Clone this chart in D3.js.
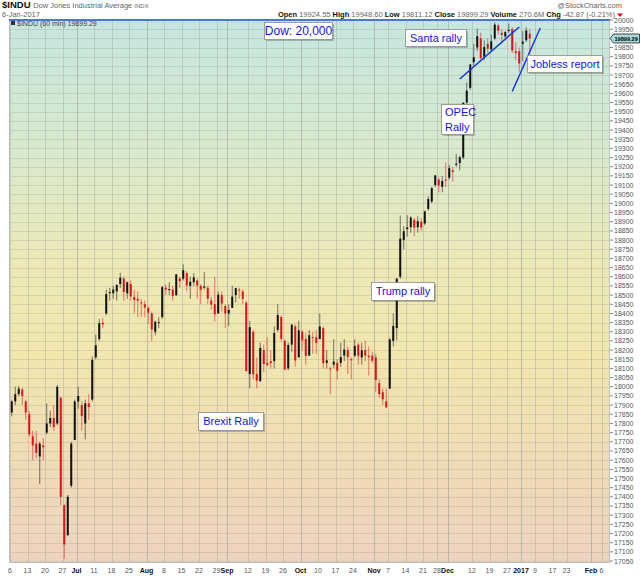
<!DOCTYPE html>
<html><head><meta charset="utf-8">
<script src="https://cdn.jsdelivr.net/npm/d3@7"></script>
<style>body{margin:0;background:#fff}svg{display:block;font-family:"Liberation Sans",Arial,sans-serif}</style>
</head><body><svg id="c" width="640" height="576"></svg>
<script>
const dates = [
"2016-06-06","2016-06-07","2016-06-08","2016-06-09","2016-06-10",
"2016-06-13","2016-06-14","2016-06-15","2016-06-16","2016-06-17",
"2016-06-20","2016-06-21","2016-06-22","2016-06-23","2016-06-24",
"2016-06-27","2016-06-28","2016-06-29","2016-06-30","2016-07-01",
"2016-07-05","2016-07-06","2016-07-07","2016-07-08",
"2016-07-11","2016-07-12","2016-07-13","2016-07-14","2016-07-15",
"2016-07-18","2016-07-19","2016-07-20","2016-07-21","2016-07-22",
"2016-07-25","2016-07-26","2016-07-27","2016-07-28","2016-07-29",
"2016-08-01","2016-08-02","2016-08-03","2016-08-04","2016-08-05",
"2016-08-08","2016-08-09","2016-08-10","2016-08-11","2016-08-12",
"2016-08-15","2016-08-16","2016-08-17","2016-08-18","2016-08-19",
"2016-08-22","2016-08-23","2016-08-24","2016-08-25","2016-08-26",
"2016-08-29","2016-08-30","2016-08-31","2016-09-01","2016-09-02",
"2016-09-06","2016-09-07","2016-09-08","2016-09-09",
"2016-09-12","2016-09-13","2016-09-14","2016-09-15","2016-09-16",
"2016-09-19","2016-09-20","2016-09-21","2016-09-22","2016-09-23",
"2016-09-26","2016-09-27","2016-09-28","2016-09-29","2016-09-30",
"2016-10-03","2016-10-04","2016-10-05","2016-10-06","2016-10-07",
"2016-10-10","2016-10-11","2016-10-12","2016-10-13","2016-10-14",
"2016-10-17","2016-10-18","2016-10-19","2016-10-20","2016-10-21",
"2016-10-24","2016-10-25","2016-10-26","2016-10-27","2016-10-28",
"2016-10-31","2016-11-01","2016-11-02","2016-11-03","2016-11-04",
"2016-11-07","2016-11-08","2016-11-09","2016-11-10","2016-11-11",
"2016-11-14","2016-11-15","2016-11-16","2016-11-17","2016-11-18",
"2016-11-21","2016-11-22","2016-11-23","2016-11-25",
"2016-11-28","2016-11-29","2016-11-30","2016-12-01","2016-12-02",
"2016-12-05","2016-12-06","2016-12-07","2016-12-08","2016-12-09",
"2016-12-12","2016-12-13","2016-12-14","2016-12-15","2016-12-16",
"2016-12-19","2016-12-20","2016-12-21","2016-12-22","2016-12-23",
"2016-12-27","2016-12-28","2016-12-29","2016-12-30",
"2017-01-03","2017-01-04","2017-01-05"];
const opens = [17860,17920,17960,17985,17920,17850,17730,17690,17620,17680,17750,17800,17830,17800,17940,
17355,17190,17460,17710,17920,17900,17800,17910,17930,18160,18260,18350,18400,18510,18510,18520,18560,18590,18510,
18560,18490,18480,18460,18450,18430,18400,18300,18350,18380,18540,18530,18530,18500,18590,18590,18620,18550,18570,18580,
18550,18540,18540,18470,18450,18400,18500,18440,18400,18430,18500,18530,18520,18460,18070,18300,18070,18030,18200,
18130,18140,18140,18310,18380,18250,18100,18230,18330,18160,18300,18260,18170,18270,18270,18260,18320,18130,18100,18120,
18130,18130,18170,18200,18150,18170,18230,18160,18200,18170,18170,18160,18020,17970,17920,17990,18250,18320,18600,18800,
18860,18870,18910,18870,18900,18890,18970,19010,19100,19130,19090,19130,19140,19180,19210,19220,19250,19550,19630,
19770,19850,19900,19800,19870,19840,19900,19970,19930,19910,19940,19950,19830,19830,19870,19890,19925];
const highs = [17930,18000,18005,17995,17930,17870,17760,17760,17700,17720,17910,17870,17900,18010,17946,
17360,17410,17700,17930,18000,17920,17930,17960,18166,18285,18370,18375,18530,18540,18550,18560,18622,18600,18575,
18580,18530,18520,18480,18470,18440,18410,18360,18380,18550,18560,18570,18550,18615,18600,18668,18630,18600,18620,18590,
18560,18625,18550,18490,18600,18520,18520,18450,18450,18550,18540,18540,18530,18465,18360,18310,18160,18240,18230,
18270,18200,18330,18450,18390,18260,18240,18340,18340,18360,18310,18290,18310,18300,18310,18399,18330,18200,18110,18260,
18150,18240,18260,18220,18160,18260,18240,18240,18250,18220,18190,18180,18040,17990,17990,18265,18400,18590,18934,18875,
18935,18930,18920,18930,18920,18960,19040,19090,19153,19140,19150,19225,19210,19200,19270,19260,19550,19660,19760,
19870,19953,19930,19890,19900,19920,19987,19980,19950,19940,19980,19960,19880,19850,19940,19960,19949];
const lows = [17840,17900,17950,17900,17820,17730,17600,17610,17470,17600,17740,17780,17760,17790,17356,
17063,17190,17450,17710,17880,17760,17713,17820,17920,18150,18250,18320,18390,18470,18480,18470,18540,18470,18480,
18470,18400,18380,18380,18380,18340,18248,18280,18320,18370,18500,18500,18470,18495,18540,18580,18520,18480,18550,18480,
18450,18530,18450,18420,18355,18400,18410,18320,18330,18430,18460,18480,18450,18085,17992,18040,17990,18030,18080,
18110,18100,18100,18300,18250,18090,18090,18190,18110,18160,18200,18120,18170,18180,18180,18260,18100,18100,17959,18100,
18040,18110,18140,18070,18040,18160,18120,18120,18140,18060,18130,17970,17940,17900,17883,17990,18220,18253,18589,18750,
18820,18840,18820,18840,18850,18880,18960,19000,19090,19060,19060,19090,19130,19120,19200,19180,19240,19540,19620,
19750,19830,19780,19780,19820,19830,19890,19920,19880,19900,19930,19820,19780,19718,19775,19880,19811];
const closes = [17920,17960,17990,17950,17860,17740,17680,17640,17690,17670,17800,17830,17780,18000,17400,
17140,17400,17690,17920,17950,17840,17910,17890,18147,18226,18347,18340,18506,18516,18530,18555,18595,18517,18570,
18493,18473,18470,18456,18432,18404,18313,18355,18352,18543,18529,18533,18495,18613,18576,18636,18552,18573,18597,18552,
18529,18547,18481,18448,18395,18502,18454,18400,18419,18492,18538,18526,18479,18085,18325,18067,18034,18212,18124,
18120,18130,18293,18392,18261,18094,18228,18339,18143,18308,18253,18168,18281,18269,18240,18329,18129,18144,18098,18138,
18087,18162,18203,18162,18145,18223,18169,18199,18170,18161,18142,18037,17960,17931,17888,18259,18332,18590,18808,18848,
18869,18923,18868,18903,18868,18957,19024,19083,19153,19098,19122,19124,19192,19171,19217,19252,19549,19615,19757,
19797,19912,19793,19853,19843,19884,19975,19942,19918,19934,19946,19833,19819,19763,19882,19943,19899.29];

const holidays = ["2016-07-04","2016-09-05","2016-11-24","2016-12-26","2017-01-02","2017-01-16"];
const tickDates = ["2016-06-06","2016-06-13","2016-06-20","2016-06-27","2016-07-01","2016-07-11","2016-07-18","2016-07-25",
"2016-08-01","2016-08-08","2016-08-15","2016-08-22","2016-08-29","2016-09-01","2016-09-12","2016-09-19","2016-09-26",
"2016-10-03","2016-10-10","2016-10-17","2016-10-24","2016-11-01","2016-11-07","2016-11-14","2016-11-21","2016-11-28",
"2016-12-01","2016-12-12","2016-12-19","2016-12-27","2017-01-03","2017-01-09","2017-01-17","2017-01-23","2017-02-01","2017-02-06"];
const tickLabels = ["6","13","20","27","Jul","11","18","25","Aug","8","15","22","29","Sep","12","19","26","Oct","10","17","24",
"Nov","7","14","21","28","Dec","12","19","27","2017","9","17","23","Feb","6"];
const majorLabels = ["Jul","Aug","Sep","Oct","Nov","Dec","2017","Feb"];
const yTickValues = d3.range(17050, 20001, 50);
const lastPrice = 19899.29;
const trend1 = [["2016-12-06",19678],["2016-12-30",19962]];
const trend2 = [["2016-12-28",19610],["2017-01-10",19956]];
const notes = [
  {t:["Dow: 20,000"], x:264, y:22, w:68, h:17, fs:12},
  {t:["Santa rally"], x:405, y:29, w:61, h:17, fs:11},
  {t:["OPEC","Rally"], x:441, y:104, w:32, h:30, fs:11, left:true},
  {t:["Trump rally"], x:371, y:282, w:63, h:18, fs:11},
  {t:["Brexit Rally"], x:198, y:412, w:65, h:18, fs:11},
  {t:["Jobless report"], x:527, y:55, w:75, h:17, fs:11}
];

// trading calendar (non-weekend, non-holiday days)
const fmt = d3.timeFormat("%Y-%m-%d");
const cal = d3.timeDay.range(new Date(2016,5,6), new Date(2017,1,12))
  .filter(d => d.getDay()>0 && d.getDay()<6 && !holidays.includes(fmt(d))).map(fmt);
const idx = new Map(cal.map((d,i)=>[d,i]));

const L=9, R=610, T=19, B=563;
const x = d3.scaleLinear().domain([0, 600/3.5]).range([10, 610]);
const y = d3.scaleLinear().domain([17050, 20000]).range([561, 20]);

const svg = d3.select("#c");
const defs = svg.append("defs");
const g = defs.append("linearGradient").attr("id","bg").attr("x1",0).attr("y1",0).attr("x2",0).attr("y2",1);
[[0,"#c5e6e0"],[0.22,"#d6e9cf"],[0.45,"#ece9b6"],[0.62,"#f1e6ae"],[0.8,"#f0dcb6"],[1,"#eed3bf"]]
  .forEach(s=>g.append("stop").attr("offset",s[0]).attr("stop-color",s[1]));
defs.append("clipPath").attr("id","clip").append("rect").attr("x",L).attr("y",T).attr("width",R-L).attr("height",B-T);

svg.append("rect").attr("x",L).attr("y",T).attr("width",R-L).attr("height",B-T).attr("fill","url(#bg)");

// grid
svg.append("g").selectAll("line").data(yTickValues).join("line")
  .attr("x1",L).attr("x2",R).attr("y1",d=>Math.round(y(d))+0.5).attr("y2",d=>Math.round(y(d))+0.5)
  .attr("stroke","#a9ab9c").attr("stroke-opacity",0.35).attr("stroke-width",1);
svg.append("g").selectAll("line").data(tickDates).join("line")
  .attr("x1",d=>Math.round(x(idx.get(d)))+0.5).attr("x2",d=>Math.round(x(idx.get(d)))+0.5)
  .attr("y1",T).attr("y2",B)
  .attr("stroke","#9fa395").attr("stroke-opacity",(d,i)=>majorLabels.includes(tickLabels[i])?0.6:0.4);

// frame
svg.append("rect").attr("x",L+0.5).attr("y",T+0.5).attr("width",R-L-1).attr("height",B-T-1)
  .attr("fill","none").attr("stroke","#b9c4c0");

// 20000 line
svg.append("line").attr("x1",L).attr("x2",R).attr("y1",y(20000)).attr("y2",y(20000))
  .attr("stroke","#4a78d8").attr("stroke-width",2);

// candles
const data = dates.map((d,i)=>({i:idx.get(d), o:opens[i], h:highs[i], l:lows[i], c:closes[i]}));
const cg = svg.append("g").attr("clip-path","url(#clip)");
const col = d => d.c >= d.o ? "#111" : "#e3101a";
cg.selectAll("line.w").data(data).join("line").attr("class","w")
  .attr("x1",d=>x(d.i+0.5)).attr("x2",d=>x(d.i+0.5)).attr("y1",d=>y(d.h)).attr("y2",d=>y(d.l))
  .attr("stroke",col).attr("stroke-opacity",0.55).attr("stroke-width",1);
cg.selectAll("rect.b").data(data).join("rect").attr("class","b")
  .attr("x",d=>x(d.i+0.5)-1).attr("width",2)
  .attr("y",d=>y(Math.max(d.o,d.c))).attr("height",d=>Math.max(1,Math.abs(y(d.o)-y(d.c))))
  .attr("fill",col);

// trendlines
[trend1,trend2].forEach(tl=>{
  svg.append("line").attr("x1",x(idx.get(tl[0][0])+0.5)).attr("y1",y(tl[0][1]))
    .attr("x2",x(idx.get(tl[1][0])+0.5)).attr("y2",y(tl[1][1]))
    .attr("stroke","#1a35e0").attr("stroke-width",1.5);
});

// y axis (label under the last-price tag is hidden, as in the original)
const ly = y(lastPrice);
const yLabelValues = yTickValues.filter(v => Math.abs(y(v)-ly) > 6);
const ya = svg.append("g").attr("font-size",7).attr("fill","#555");
ya.selectAll("line").data(yTickValues).join("line")
  .attr("x1",R).attr("x2",R+3).attr("y1",d=>y(d)).attr("y2",d=>y(d)).attr("stroke","#888");
ya.selectAll("text").data(yLabelValues).join("text")
  .attr("x",R+4).attr("y",d=>y(d)+2.5).text(d=>d);

// last price tag
svg.append("path").attr("d",`M${R},${ly} L${R+3.5},${ly-4.5} L639.5,${ly-4.5} L639.5,${ly+4.5} L${R+3.5},${ly+4.5} Z`)
  .attr("fill","#a8d8d8").attr("stroke","#222").attr("stroke-width",0.8);
svg.append("text").attr("x",R+4.5).attr("y",ly+2.2).attr("font-size",5.6).attr("font-weight","bold").attr("fill","#000")
  .text(lastPrice.toFixed(2));

// x axis labels
svg.append("g").selectAll("text").data(tickDates).join("text")
  .attr("x",d=>x(idx.get(d))).attr("y",573).attr("text-anchor","middle")
  .attr("font-size",7).attr("font-weight",(d,i)=>majorLabels.includes(tickLabels[i])?"bold":"normal")
  .attr("fill",(d,i)=>majorLabels.includes(tickLabels[i])?"#111":"#555")
  .text((d,i)=>tickLabels[i]);

// header
const h1 = svg.append("text").attr("x",2).attr("y",8).attr("font-size",7.5).attr("fill","#666");
h1.append("tspan").attr("font-weight","bold").attr("font-size",9.5).attr("fill","#111").text("$INDU ");
h1.append("tspan").text("Dow Jones Industrial Average ");
h1.append("tspan").attr("font-size",6).text("INDX");
svg.append("text").attr("x",2).attr("y",17).attr("font-size",7.5).attr("fill","#666").text("6-Jan-2017");
svg.append("text").attr("x",622).attr("y",8).attr("text-anchor","end").attr("font-size",7.5).attr("fill","#666").text("@StockCharts.com");
const h2 = svg.append("text").attr("x",615).attr("y",17).attr("text-anchor","end").attr("font-size",7.5).attr("fill","#666");
[["Open ","19924.55 "],["High ","19948.60 "],["Low ","19811.12 "],["Close ","19899.29 "],["Volume ","270.6M "],["Chg ","-42.87 (-0.21%)"]]
  .forEach(p=>{h2.append("tspan").attr("font-weight","bold").attr("fill","#111").text(p[0]); h2.append("tspan").text(p[1]);});
svg.append("path").attr("d","M617,13.5 L623,13.5 L620,17 Z").attr("fill","#d01010");

// legend inside plot
svg.append("rect").attr("x",11).attr("y",21).attr("width",4).attr("height",4).attr("fill","#333");
svg.append("text").attr("x",17).attr("y",26).attr("font-size",7).attr("fill","#444").text("$INDU (60 min) 19899.29");

// annotation boxes
notes.forEach(n=>{
  svg.append("rect").attr("x",n.x+2).attr("y",n.y+2).attr("width",n.w).attr("height",n.h).attr("fill","#000").attr("fill-opacity",0.22);
  svg.append("rect").attr("x",n.x+0.5).attr("y",n.y+0.5).attr("width",n.w).attr("height",n.h).attr("fill","#fff").attr("stroke","#8a8a8a").attr("stroke-width",0.8);
  const lh = n.h / n.t.length;
  n.t.forEach((s,k)=>{
    svg.append("text").attr("x",n.left? n.x+4 : n.x+n.w/2+0.5).attr("y",n.y+lh*k+lh/2+n.fs*0.36+0.5)
      .attr("text-anchor",n.left?"start":"middle").attr("font-size",n.fs).attr("fill","#1414e6").text(s);
  });
});
</script></body></html>
